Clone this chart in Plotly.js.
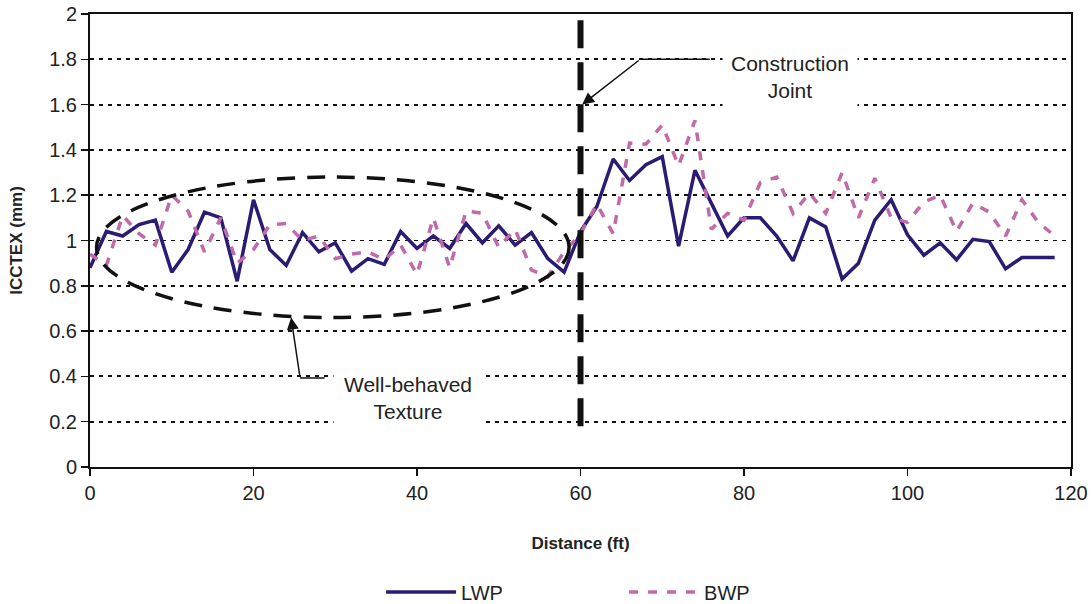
<!DOCTYPE html>
<html>
<head>
<meta charset="utf-8">
<script src="https://cdn.plot.ly/plotly-3.0.1.min.js"></script>
<style>html,body{margin:0;padding:0;background:#fff;}#chart{width:1092px;height:604px;}</style>
</head>
<body>
<div id="chart"></div>
<script>
const distance = [0,2,4,6,8,10,12,14,16,18,20,22,24,26,28,30,32,34,36,38,40,42,44,46,48,50,52,54,56,58,
  60,62,64,66,68,70,72,74,76,78,80,82,84,86,88,90,92,94,96,98,100,102,104,106,108,110,112,114,116,118];
const lwp = [0.88,1.04,1.02,1.07,1.09,0.86,0.96,1.125,1.10,0.82,1.18,0.96,0.89,1.035,0.95,0.99,0.865,0.92,0.895,1.04,0.965,1.02,0.965,1.075,0.99,1.065,0.98,1.035,0.92,0.86,
  1.04,1.15,1.36,1.265,1.335,1.37,0.975,1.31,1.165,1.02,1.10,1.10,1.02,0.91,1.10,1.06,0.83,0.90,1.09,1.18,1.025,0.935,0.99,0.915,1.005,0.995,0.875,0.925,0.925,0.925];
const bwp = [0.94,0.89,1.11,1.03,0.98,1.20,1.13,0.95,1.10,0.90,0.96,1.07,1.075,1.00,1.02,0.92,0.94,0.95,0.915,0.98,0.85,1.10,0.88,1.13,1.12,0.97,1.05,0.87,0.84,0.95,
  1.03,1.16,1.03,1.43,1.425,1.51,1.33,1.53,1.05,1.12,1.09,1.255,1.28,1.12,1.21,1.12,1.30,1.10,1.275,1.10,1.08,1.17,1.20,1.04,1.165,1.125,1.02,1.18,1.08,1.02];
const xTicks = [0,20,40,60,80,100,120];
const yTicks = [0,0.2,0.4,0.6,0.8,1,1.2,1.4,1.6,1.8,2];
const yTickText = ['0','0.2','0.4','0.6','0.8','1','1.2','1.4','1.6','1.8','2'];

const font = 'Liberation Sans, Arial, sans-serif';
const traces = [
  {x: distance, y: lwp, name: 'LWP', type: 'scatter', mode: 'lines',
   line: {color: '#2b1b72', width: 3.5}},
  {x: distance, y: bwp, name: 'BWP', type: 'scatter', mode: 'lines',
   line: {color: '#c06aa8', width: 3.5, dash: '9px,10px'}}
];
const layout = {
  width: 1092, height: 604,
  margin: {l: 90, r: 21, t: 14, b: 137, autoexpand: false},
  paper_bgcolor: '#fff', plot_bgcolor: '#fff',
  font: {family: font, color: '#222', size: 20},
  showlegend: true,
  legend: {orientation: 'h', x: 0.2967, xanchor: 'left', y: -0.276, yanchor: 'middle',
           font: {size: 20, color: '#222'}, itemwidth: 70, traceorder: 'normal',
           entrywidth: 158},
  xaxis: {range: [0, 120], tickvals: xTicks, ticks: 'outside', ticklen: 7, tickwidth: 1.5, tickcolor: '#111',
          showline: true, linecolor: '#111', linewidth: 2, mirror: true, showgrid: false, zeroline: false,
          tickfont: {size: 20}, title: {text: '<b>Distance (ft)</b>', font: {size: 17, color: '#222'}, standoff: 34}},
  yaxis: {range: [0, 2], tickvals: yTicks, ticktext: yTickText, ticks: 'outside', ticklen: 7, tickwidth: 1.5, tickcolor: '#111',
          showline: true, linecolor: '#111', linewidth: 2, mirror: true,
          showgrid: true, gridcolor: '#111', gridwidth: 1.8, griddash: '4px,5px', zeroline: false,
          tickfont: {size: 20}, title: {text: '<b>ICCTEX (mm)</b>', font: {size: 17, color: '#222'}, standoff: 22}},
  shapes: [
    {type: 'line', xref: 'x', yref: 'y', x0: 60, x1: 60, y0: 0.18, y1: 2,
     line: {color: '#111', width: 6, dash: '28px,14px'}},
    {type: 'circle', xref: 'x', yref: 'y', x0: 0.8, x1: 58.6, y0: 0.66, y1: 1.28,
     line: {color: '#111', width: 3.5, dash: '18px,12px'}},
    {type: 'line', xref: 'x', yref: 'y', x0: 67.3, x1: 75.8, y0: 1.8, y1: 1.8,
     line: {color: '#111', width: 1.5}},
    {type: 'line', xref: 'x', yref: 'y', x0: 25.7, x1: 28.7, y0: 0.393, y1: 0.393,
     line: {color: '#111', width: 1.5}}
  ],
  annotations: [
    {x: 60.2, y: 1.6, ax: 67.3, ay: 1.8, xref: 'x', yref: 'y', axref: 'x', ayref: 'y',
     showarrow: true, arrowhead: 2, arrowsize: 1.6, arrowwidth: 1.5, arrowcolor: '#111', text: ''},
    {x: 24.6, y: 0.66, ax: 25.7, ay: 0.393, xref: 'x', yref: 'y', axref: 'x', ayref: 'y',
     showarrow: true, arrowhead: 2, arrowsize: 1.6, arrowwidth: 1.5, arrowcolor: '#111', text: ''},
    {x: 85.6, y: 1.72, xref: 'x', yref: 'y', showarrow: false, text: 'Construction<br>Joint',
     font: {size: 21, color: '#222'}, align: 'center', bgcolor: '#ffffff', borderpad: 8},
    {x: 38.9, y: 0.305, xref: 'x', yref: 'y', showarrow: false, text: 'Well-behaved<br>Texture',
     font: {size: 21, color: '#222'}, align: 'center', bgcolor: '#ffffff', borderpad: 10}
  ]
};
Plotly.newPlot('chart', traces, layout, {displayModeBar: false, staticPlot: true});
</script>
</body>
</html>
